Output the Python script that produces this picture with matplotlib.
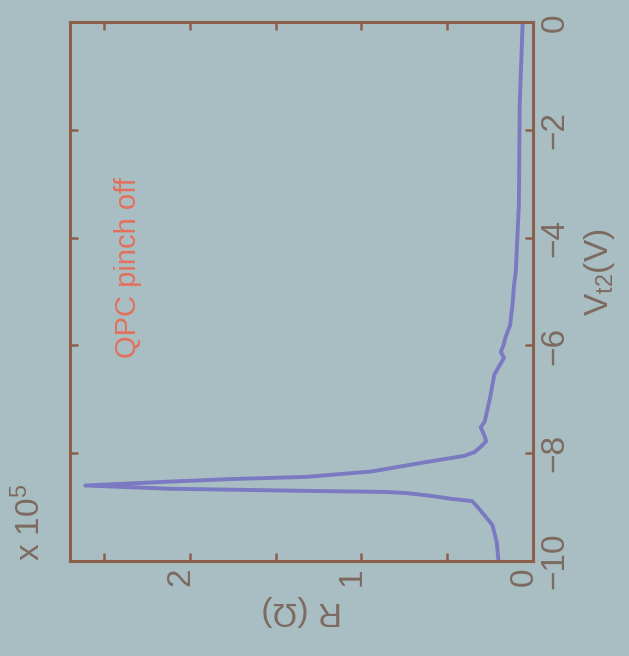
"""
QPC pinch-off trace, drawn turned by 90 degrees as on the photographed slide
"""

import numpy as np
import matplotlib
matplotlib.use('Agg')
import matplotlib.pyplot as plt
import matplotlib.transforms as mtransforms

plt.rcParams['font.family'] = ['Liberation Sans', 'DejaVu Sans']
plt.rcParams['mathtext.fontset'] = 'custom'
plt.rcParams['mathtext.rm'] = 'Liberation Sans'
plt.rcParams['mathtext.it'] = 'Liberation Sans:italic'

# gate voltage (V) and resistance (units of 1e5 Ohm)
v_gate = [-10.0, -9.65, -9.33, -9.01, -8.89, -8.85, -8.79, -8.74, -8.72, -8.70,
          -8.66, -8.60, -8.53, -8.48, -8.44, -8.34, -8.18, -8.05, -7.98, -7.89,
          -7.78, -7.71, -7.52, -7.41, -6.97, -6.54, -6.23, -6.12, -5.99, -5.86,
          -5.62, -5.24, -4.87, -4.63, -3.38, -1.52, 0.0]
r_1e5 = [0.20, 0.21, 0.236, 0.319, 0.354, 0.47, 0.60, 0.74, 0.86, 1.32,
         2.13, 2.61, 2.13, 1.75, 1.32, 0.94, 0.65, 0.40, 0.34, 0.306,
         0.272, 0.278, 0.303, 0.28, 0.249, 0.224, 0.168, 0.186, 0.17, 0.16,
         0.132, 0.118, 0.109, 0.099, 0.081, 0.076, 0.059]

r_ticks = [0, 0.5, 1.0, 1.5, 2.0, 2.5]
r_ticklabels = ['0', '', '1', '', '2', '']
v_ticks = [-10, -8, -6, -4, -2, 0]

bg = '#a9bec2'
frame_c = '#8c5f4a'
text_c = '#7d6a60'
line_c = '#7b79c2'
note_c = '#e4705c'

fontsize = 24

fig = plt.figure(figsize=(6.29, 6.56), dpi=100, facecolor=bg)
ax = fig.add_axes([0.111, 0.145, 0.736, 0.821], facecolor=bg)

r_ohm = np.array(r_1e5) * 1e5
ax.plot(r_ohm, v_gate, color=line_c, lw=2.8)

ax.set_xlim(2.7e5, 0)
ax.set_ylim(-10, 0)
ax.set_xticks(np.array(r_ticks) * 1e5)
ax.set_xticklabels(r_ticklabels)
ax.set_yticks(v_ticks)
ax.yaxis.tick_right()

for s in ax.spines.values():
    s.set_color(frame_c)
    s.set_linewidth(2.2)

ax.tick_params(direction='in', length=6, width=1.8, color=frame_c,
               labelcolor=text_c, labelsize=fontsize, pad=5,
               top=True, bottom=True, left=True, right=True)
ax.tick_params(axis='x', labelrotation=90)
ax.tick_params(axis='y', labelrotation=90, labelleft=False, labelright=True)
for lab in ax.get_yticklabels():
    lab.set_verticalalignment('center')

# R tick labels sit a little left of their ticks on the slide
shift = mtransforms.ScaledTranslation(-9 / 100, 0, fig.dpi_scale_trans)
for lab in ax.get_xticklabels():
    lab.set_transform(lab.get_transform() + shift)

ax.set_xlabel('R (\u03a9)', fontsize=fontsize, color=text_c, rotation=180, labelpad=6)
ax.set_ylabel(r'V$_{\rm t2}$(V)', fontsize=fontsize, color=text_c, rotation=90)
ax.yaxis.set_label_coords(1.145, 0.536)
ax.yaxis.label.set_horizontalalignment('center')
ax.yaxis.label.set_verticalalignment('center')
ax.yaxis.label.set_rotation_mode('default')

ax.text(-0.086, 0.0, r'x 10$^5$', transform=ax.transAxes, rotation=90,
        ha='center', va='bottom', fontsize=fontsize, color=text_c)
ax.text(0.125, 0.544, 'QPC pinch off', transform=ax.transAxes, rotation=90,
        ha='center', va='center', fontsize=21, color=note_c)

plt.savefig('out.png', dpi=100, facecolor=bg)
